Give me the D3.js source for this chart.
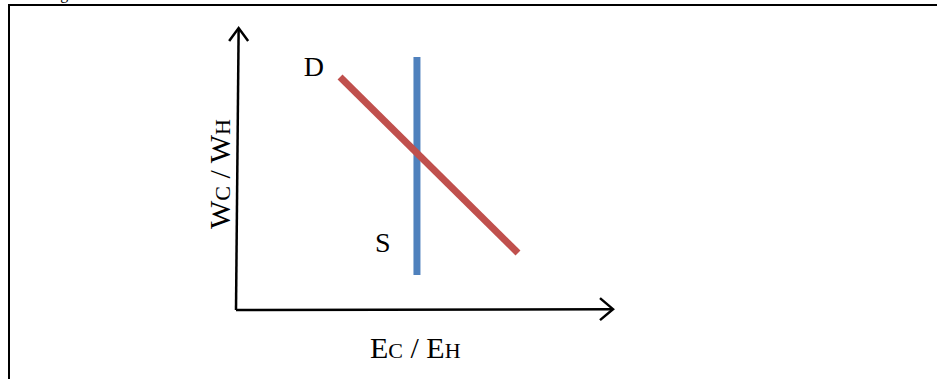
<!DOCTYPE html>
<html>
<head>
<meta charset="utf-8">
<script src="https://cdnjs.cloudflare.com/ajax/libs/d3/7.8.5/d3.min.js"></script>
<style>
    body { margin: 0; background: #fff; }
    svg { display: block; }
    text { font-family: "Liberation Serif", "Times New Roman", serif; fill: #000; }
</style>
</head>
<body>
<script>
// chart data in abstract units (0-100 on both axes)
var supplyLine = [[48, 12.4], [48, 89.7]],
    demandLine = [[27.6, 82.6], [74.8, 20.2]],
    xAxisLine = [[0, 0], [100, 0.3]],
    yAxisLine = [[0, 0], [0.7, 100]],
    curveLabels = [{"name": "D", "x": 18, "y": 83}, {"name": "S", "x": 36.9, "y": 20.4}],
    xLabel = [["E", "big"], ["C", "small"], [" / ", "big"], ["E", "big"], ["H", "small"]],
    yLabel = [["W", "big"], ["C", "small"], [" / ", "big"], ["W", "big"], ["H", "small"]];

window.onload = function() {
    makeGraph();
};

/*
 * Draw the supply / demand sketch.
 */
function makeGraph()
{
    var width = 937,
        height = 379;

    var svg = d3.select("body").append("svg")
        .attr("width", width)
        .attr("height", height);

    // frame around the figure, open on the right and bottom
    svg.append("rect")
        .attr("x", 9)
        .attr("y", 5)
        .attr("width", width + 20)
        .attr("height", height + 20)
        .attr("fill", "none")
        .attr("stroke", "#000")
        .attr("stroke-width", 2);

    // caption above the frame, mostly cut off
    svg.append("text")
        .attr("x", 47)
        .attr("y", -1)
        .style("font-size", "16px")
        .text("Figure");

    // scales
    var scaleX = d3.scaleLinear()
        .domain([0, 100])
        .range([236, 613]);

    var scaleY = d3.scaleLinear()
        .domain([0, 100])
        .range([310, 28]);

    var line = d3.line()
        .x(function(d) { return scaleX(d[0]); })
        .y(function(d) { return scaleY(d[1]); });

    // axes
    svg.append("path")
        .attr("d", line(xAxisLine))
        .attr("stroke", "#000")
        .attr("stroke-width", 2.5)
        .attr("fill", "none");

    svg.append("path")
        .attr("d", line(yAxisLine))
        .attr("stroke", "#000")
        .attr("stroke-width", 2.5)
        .attr("fill", "none");

    // open arrow heads at the axis ends
    var xTip = [scaleX(xAxisLine[1][0]), scaleY(xAxisLine[1][1])],
        yTip = [scaleX(yAxisLine[1][0]), scaleY(yAxisLine[1][1])];

    svg.append("path")
        .attr("d", "M" + (xTip[0] - 13) + "," + (xTip[1] - 11) + "L" + xTip[0] + "," + xTip[1] +
                   "L" + (xTip[0] - 13) + "," + (xTip[1] + 11))
        .attr("stroke", "#000")
        .attr("stroke-width", 2.5)
        .attr("fill", "none");

    svg.append("path")
        .attr("d", "M" + (yTip[0] - 9.5) + "," + (yTip[1] + 13) + "L" + yTip[0] + "," + yTip[1] +
                   "L" + (yTip[0] + 9.5) + "," + (yTip[1] + 13))
        .attr("stroke", "#000")
        .attr("stroke-width", 2.5)
        .attr("fill", "none");

    // supply and demand lines
    svg.append("path")
        .attr("d", line(supplyLine))
        .attr("stroke", "#4f81bd")
        .attr("stroke-width", 7)
        .attr("fill", "none");

    svg.append("path")
        .attr("d", line(demandLine))
        .attr("stroke", "#c0504d")
        .attr("stroke-width", 7)
        .attr("fill", "none");

    // curve labels
    svg.selectAll(".curveLabel")
        .data(curveLabels)
        .enter().append("text")
            .attr("class", "curveLabel")
            .attr("x", function(d) { return scaleX(d.x); })
            .attr("y", function(d) { return scaleY(d.y); })
            .style("font-size", "28px")
            .text(function(d) { return d.name; });

    // x-axis label with small capitals
    var xText = svg.append("text")
        .attr("x", 370)
        .attr("y", 358);

    xText.selectAll("tspan")
        .data(xLabel)
        .enter().append("tspan")
            .style("font-size", function(d) { return d[1] == "big" ? "30px" : "22px"; })
            .style("white-space", "pre")
            .text(function(d) { return d[0]; });

    // y-axis label, rotated
    var yText = svg.append("text")
        .attr("transform", "translate(230,174) rotate(-90)")
        .style("text-anchor", "middle");

    yText.selectAll("tspan")
        .data(yLabel)
        .enter().append("tspan")
            .style("font-size", function(d) { return d[1] == "big" ? "30px" : "22px"; })
            .style("white-space", "pre")
            .text(function(d) { return d[0]; });
}
</script>
</body>
</html>
